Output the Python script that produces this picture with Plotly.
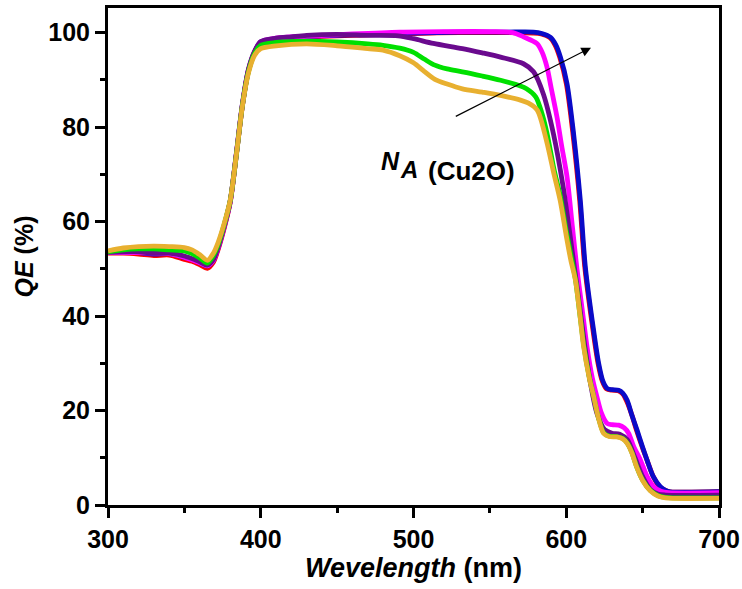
import plotly.graph_objects as go

# Quantum efficiency spectra for increasing Cu2O acceptor density N_A
red_x = [300, 310, 320, 330, 340, 350, 355, 360, 365, 369, 372, 376, 380, 384, 388, 392, 396, 400, 410, 420, 440,
         460, 480, 500, 530, 560, 578, 583.6, 589.3, 592.6, 595.8, 600.1, 604.4, 608.8, 612.1, 617.5, 620.8, 623.6,
         626.3, 630, 634, 637, 639.5, 643, 646, 650, 653, 657, 661, 665, 668, 700]
red_y = [53.3, 53.3, 53.1, 52.8, 52.9, 52.0, 51.6, 50.9, 50.1, 51.4, 54.0, 58.5, 64.0, 74.0, 84.5, 92.0, 95.8, 97.8,
         98.6, 98.9, 99.2, 99.4, 99.6, 99.8, 100.0, 100.0, 99.9, 99.7, 98.9, 97.4, 94.7, 89.1, 78.5, 64.5, 50.5,
         37.0, 30.0, 26.2, 24.6, 24.3, 24.2, 23.5, 22.0, 19.0, 15.8, 12.0, 9.4, 6.0, 3.9, 3.1, 2.8, 2.8]

blue_x = [300, 310, 320, 330, 340, 350, 355, 360, 365, 369, 372, 376, 380, 384, 388, 392, 396, 400, 410, 420, 440,
          460, 480, 500, 530, 560, 578.5, 584, 589.7, 593, 596.2, 600.5, 604.8, 609.2, 612.5, 617.9, 621.2, 624,
          626.7, 630, 634.3, 637, 639.8, 643, 646.3, 650, 652.9, 657, 661.6, 665, 668.1, 700]
blue_y = [53.4, 53.5, 53.4, 53.1, 53.2, 52.4, 52.0, 51.3, 50.6, 51.8, 54.3, 58.8, 64.2, 74.2, 84.7, 92.1, 95.9, 98.0,
          98.7, 99.0, 99.3, 99.5, 99.7, 99.9, 100.1, 100.1, 100.1, 99.8, 99.0, 97.5, 94.8, 89.2, 78.6, 64.5, 50.4,
          37.0, 30.0, 26.2, 24.7, 24.4, 24.3, 23.7, 22.2, 19.0, 15.9, 12.2, 9.5, 6.0, 3.9, 3.1, 2.8, 2.8]

magenta_x = [300, 320, 340, 350, 360, 365, 369, 372, 376, 380, 384, 388, 392, 396, 400, 410, 430, 460, 491, 520, 550,
             565, 572, 580.8, 584, 587.4, 590, 594, 597, 600.5, 604, 607, 611, 613.6, 617, 620.1, 623, 626.7, 630,
             634.3, 638, 640.8, 644, 648.6, 653, 657.2, 662, 667, 700]
magenta_y = [53.4, 53.4, 53.2, 52.4, 51.3, 50.6, 51.8, 54.3, 58.8, 64.2, 74.2, 84.7, 92.1, 95.9, 98.0, 98.8, 99.2, 99.7,
             100.1, 100.2, 100.2, 100.0, 99.1, 97.7, 96.0, 92.7, 88.5, 82.0, 76.0, 69.5, 59.0, 50.0, 40.0, 33.5, 27.0,
             22.9, 19.5, 17.3, 17.0, 16.9, 16.3, 15.2, 12.5, 9.5, 6.0, 3.9, 2.9, 2.6, 2.6]

purple_x = [300, 320, 330, 340, 350, 360, 365, 369, 372, 376, 380, 384, 388, 392, 396, 400, 410, 420, 430, 450, 470,
            490, 500, 513, 532, 545, 557, 572, 578.6, 585, 591.6, 598, 604.7, 608, 612, 616, 620, 625, 630, 635, 640,
            645, 650, 655, 660, 665, 700]
purple_y = [53.5, 53.6, 53.3, 53.3, 52.7, 51.5, 50.8, 52.0, 54.5, 59.0, 64.4, 74.4, 84.9, 92.3, 96.1, 98.1, 98.8, 99.1,
            99.4, 99.6, 99.4, 99.3, 98.7, 97.7, 96.6, 95.7, 94.8, 93.4, 91.7, 87.0, 78.6, 67.3, 51.8, 44.0, 34.0,
            25.5, 19.5, 16.0, 15.2, 15.0, 13.8, 10.0, 6.0, 3.3, 2.3, 2.1, 2.1]

green_x = [300, 310, 320, 330, 340, 350, 355, 360, 365, 369, 372, 376, 380, 384, 388, 392, 396, 400, 410, 430, 450,
           470, 480, 491, 500, 507, 514, 522, 532, 545, 557, 570, 574, 580, 584, 587.4, 592, 596, 600, 603, 606,
           609, 611.5, 615, 618, 621, 624.5, 628, 633, 637, 640, 643, 646, 650, 655, 660, 665, 670, 700]
green_y = [53.6, 54.0, 54.2, 54.2, 54.0, 53.8, 53.2, 52.3, 51.2, 52.8, 55.0, 59.3, 64.4, 74.0, 84.6, 91.8, 95.6, 97.3,
           97.9, 98.2, 98.0, 97.6, 97.3, 96.7, 95.8, 94.4, 93.1, 92.3, 91.7, 90.8, 89.9, 88.7, 88.1, 86.4, 83.0,
           78.7, 71.0, 65.5, 58.0, 53.0, 47.8, 40.2, 33.7, 27.2, 23.0, 18.6, 15.3, 14.6, 14.5, 14.1, 13.1, 11.1, 8.2,
           5.3, 3.1, 2.0, 1.6, 1.5, 1.5]

orange_x = [300, 310, 320, 330, 340, 350, 355, 360, 365, 369, 372, 376, 380, 384, 388, 392, 396, 400, 410, 430, 450,
            470, 480, 491, 500, 507, 514, 522, 532, 545, 557, 570, 575, 581, 587, 592, 596, 600, 603, 606, 609,
            611.4, 615, 618, 621, 624.4, 628, 633, 637, 640, 643, 646, 650, 655, 660, 665, 670, 700]
orange_y = [53.8, 54.4, 54.7, 54.8, 54.7, 54.5, 54.0, 53.0, 51.8, 53.3, 55.5, 59.5, 64.5, 74.0, 84.5, 91.5, 95.2, 96.6,
            97.2, 97.6, 97.2, 96.6, 96.3, 95.1, 93.6, 91.8, 90.1, 89.1, 88.1, 87.4, 86.7, 85.7, 85.1, 83.6, 77.2,
            70.0, 64.5, 57.0, 51.8, 47.6, 40.0, 33.5, 27.0, 22.9, 18.5, 15.2, 14.5, 14.4, 14.0, 13.0, 11.0, 8.1, 5.2,
            3.0, 1.9, 1.5, 1.4, 1.4]

series = [
    (red_x, red_y, "#FF0000"),
    (blue_x, blue_y, "#0A0AC8"),
    (magenta_x, magenta_y, "#FF00FF"),
    (purple_x, purple_y, "#6A0A8E"),
    (green_x, green_y, "#00E000"),
    (orange_x, orange_y, "#E8B030"),
]

fig = go.Figure()
for xs, ys, col in series:
    fig.add_trace(go.Scatter(
        x=xs, y=ys, mode="lines",
        line=dict(color=col, width=4.8, shape="spline", smoothing=0.8),
        showlegend=False, hoverinfo="skip",
    ))

font_fam = "Liberation Sans, Arial, sans-serif"

axis_common = dict(
    showline=True, linecolor="black", linewidth=3, mirror=True,
    ticks="outside", ticklen=10, tickwidth=2.5, tickcolor="black",
    showgrid=False, zeroline=False, automargin=False,
    tickfont=dict(family=font_fam, size=25, color="black", weight="bold"),
)

fig.update_xaxes(
    range=[300, 700], dtick=100, tick0=300,
    minor=dict(ticks="outside", ticklen=5, tickwidth=2.5, tickcolor="black", dtick=50),
    title=dict(text="<i>Wevelength</i> (nm)",
               font=dict(family=font_fam, size=27, color="black", weight="bold"), standoff=6),
    **axis_common,
)
fig.update_yaxes(
    range=[0, 105.2], dtick=20, tick0=0,
    minor=dict(ticks="outside", ticklen=5, tickwidth=2.5, tickcolor="black", dtick=10),
    title=dict(text="<i>QE</i> (%)",
               font=dict(family=font_fam, size=25, color="black", weight="bold"), standoff=8),
    **axis_common,
)

# Trend arrow and N_A (Cu2O) label
fig.add_annotation(
    x=616.2, y=96.8, ax=526.7, ay=82.1, xref="x", yref="y", axref="x", ayref="y",
    text="", showarrow=True, arrowhead=2, arrowsize=1.6, arrowwidth=1.2, arrowcolor="black",
)
fig.add_annotation(x=484.8, y=72.8, xref="x", yref="y", text="<b><i>N</i></b>", showarrow=False,
                   font=dict(family=font_fam, size=25, color="black"))
fig.add_annotation(x=497.3, y=71.1, xref="x", yref="y", text="<b><i>A</i></b>", showarrow=False,
                   font=dict(family=font_fam, size=24, color="black"))
fig.add_annotation(x=537.8, y=70.6, xref="x", yref="y", text="<b>(Cu2O)</b>", showarrow=False,
                   font=dict(family=font_fam, size=26, color="black"))

fig.update_layout(
    width=742, height=589,
    margin=dict(l=108, r=23, t=8, b=84, autoexpand=False),
    paper_bgcolor="white", plot_bgcolor="white",
)

fig.write_html("out.html")
